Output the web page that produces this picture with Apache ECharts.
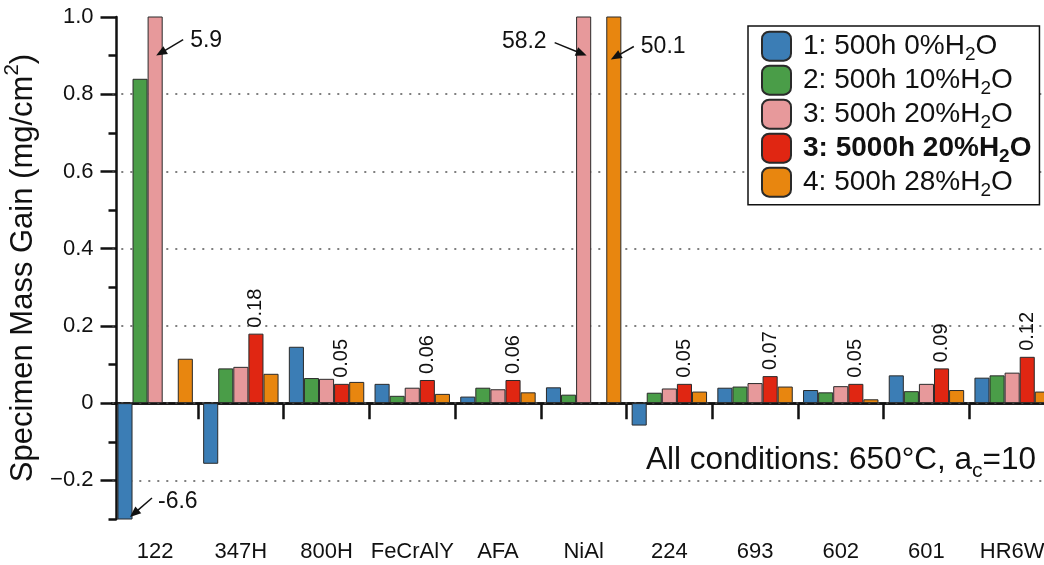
<!DOCTYPE html>
<html><head><meta charset="utf-8">
<script src="https://cdn.jsdelivr.net/npm/echarts@6/dist/echarts.min.js"></script>
<style>html,body{margin:0;padding:0;background:#fff}#c{width:1044px;height:565px}</style>
</head><body><div id="c"></div>
<script>
const categories = ['122','347H','800H','FeCrAlY','AFA','NiAl','224','693','602','601','HR6W'];
const seriesNames = ['1: 500h 0%H2O','2: 500h 10%H2O','3: 500h 20%H2O','3: 5000h 20%H2O','4: 500h 28%H2O'];
const s1 = [-6.6, -0.157, 0.146, 0.05, 0.017, 0.041, -0.058, 0.04, 0.034, 0.072, 0.066];
const s2 = [0.84, 0.09, 0.065, 0.019, 0.04, 0.022, 0.027, 0.043, 0.028, 0.031, 0.072];
const s3 = [5.9, 0.094, 0.063, 0.04, 0.036, 58.2, 0.038, 0.052, 0.044, 0.05, 0.079];
const s4 = [null, 0.18, 0.05, 0.06, 0.06, null, 0.05, 0.07, 0.05, 0.09, 0.12];
const s5 = [0.115, 0.076, 0.055, 0.024, 0.028, 50.1, 0.03, 0.043, 0.01, 0.034, 0.03];
const yMajorTicks = [-0.2, 0, 0.2, 0.4, 0.6, 0.8, 1.0];
const gridLineValues = [-0.2, 0, 0.2, 0.4, 0.6, 0.8];
const colors = ['#3b7db5','#4a9d48','#e7999b','#e02612','#e8860f'];
const clippedNotes = [
  {cat: '122', series: 2, text: '5.9'},
  {cat: '122', series: 0, text: '-6.6'},
  {cat: 'NiAl', series: 2, text: '58.2'},
  {cat: 'NiAl', series: 4, text: '50.1'}
];
const noteText = 'All conditions: 650°C, a';

const FONT = 'Liberation Sans, Arial, Helvetica, sans-serif';
const chart = echarts.init(document.getElementById('c'), null, {renderer: 'canvas'});
const allData = [s1, s2, s3, s4, s5];

function fmtY(v) {
  if (Math.abs(v) < 1e-9) return '0';
  const s = v.toFixed(1);
  return s.replace('-', '\u2212');
}

const series = allData.map((d, i) => {
  const o = {
    name: seriesNames[i],
    type: 'bar',
    data: d,
    xAxisIndex: 0,
    yAxisIndex: 0,
    barGap: '0%',
    barCategoryGap: '12%',
    clip: true,
    itemStyle: {color: colors[i], borderColor: '#2a2a2a', borderWidth: 1},
    emphasis: {disabled: true}
  };
  if (i === 3) {
    o.label = {
      show: true, position: 'top', rotate: 90, align: 'left', verticalAlign: 'middle',
      distance: 6, fontSize: 20, fontFamily: FONT, color: '#111',
      formatter: p => (p.value == null ? '' : Number(p.value).toFixed(2))
    };
  }
  if (i === 0) {
    o.markLine = {
      silent: true, symbol: 'none', z: 1, animation: false,
      label: {show: false},
      lineStyle: {type: [2, 7], color: '#555', width: 1.5},
      data: gridLineValues.map(v => ({yAxis: v}))
    };
  }
  return o;
});

const option = {
  animation: false,
  textStyle: {fontFamily: FONT},
  grid: {left: 112.3, top: 17, width: 942.7, height: 502, containLabel: false, outerBoundsMode: 'none'},
  legend: {
    orient: 'vertical', left: 748, top: 26,
    padding: [4.7, 8, 4, 13],
    itemWidth: 29, itemHeight: 29, itemGap: 0,
    icon: 'roundRect',
    borderColor: '#111', borderWidth: 1.5, borderRadius: 0,
    backgroundColor: '#fff', z: 20,
    data: seriesNames,
    formatter: name => {
      const base = name.replace('H2O', '');
      if (name === seriesNames[3]) return '{b|' + base + 'H}{bs|2}{b|O}';
      return '{n|' + base + 'H}{s|2}{n|O}';
    },
    textStyle: {
      padding: [0, 0, 0, 7],
      lineHeight: 29,
      rich: {
        n: {fontSize: 28, lineHeight: 29, fontFamily: FONT, color: '#111', verticalAlign: 'bottom'},
        s: {fontSize: 19, lineHeight: 29, fontFamily: FONT, color: '#111', verticalAlign: 'bottom', padding: [0, 0, -4, 0]},
        b: {fontSize: 28, lineHeight: 29, fontFamily: FONT, fontWeight: 'bold', color: '#111', verticalAlign: 'bottom'},
        bs: {fontSize: 19, lineHeight: 29, fontFamily: FONT, fontWeight: 'bold', color: '#111', verticalAlign: 'bottom', padding: [0, 0, -4, 0]}
      }
    }
  },
  xAxis: [{
    type: 'category', data: categories, position: 'bottom',
    axisLine: {lineStyle: {color: '#111', width: 2.5}},
    axisTick: {show: true, length: 16, lineStyle: {color: '#111', width: 2.5},
      interval: (idx) => idx !== 0},
    axisLabel: {fontSize: 22, color: '#111', margin: 22, fontFamily: FONT, interval: 0},
    splitLine: {show: false}
  }, {
    type: 'category', data: categories, position: 'top',
    axisLine: {lineStyle: {color: '#111', width: 2.5}},
    axisTick: {show: false}, axisLabel: {show: false}, splitLine: {show: false}
  }],
  yAxis: [{
    type: 'value', min: -0.3, max: 1.0, position: 'left', offset: -4.2,
    axisLine: {show: true, lineStyle: {color: '#111', width: 2.5}},
    axisTick: {show: true, length: 16, lineStyle: {color: '#111', width: 2.5}, customValues: yMajorTicks},
    axisLabel: {fontSize: 22, color: '#111', margin: 23, fontFamily: FONT, customValues: yMajorTicks, formatter: fmtY},
    splitLine: {show: false},
    name: '{a|Specimen Mass Gain (mg/cm}{p|2}{a|)}',
    nameLocation: 'middle', nameGap: 70, nameRotate: 90,
    nameTextStyle: {
      rich: {
        a: {fontSize: 31, fontFamily: FONT, color: '#111', verticalAlign: 'top', padding: [6, 0, 0, 0]},
        p: {fontSize: 20.5, fontFamily: FONT, color: '#111', verticalAlign: 'top'}
      }
    }
  }, {
    type: 'value', min: -0.3, max: 1.0, interval: 0.1, position: 'left', offset: -4.2,
    axisLine: {show: false},
    axisTick: {show: true, length: 8, lineStyle: {color: '#111', width: 2.5}},
    axisLabel: {show: false},
    splitLine: {show: false}
  }],
  series: series
};
chart.setOption(option);

// Annotations for bars that run off the plotted range
function barCenterX(cat, sIdx) {
  const ci = categories.indexOf(cat);
  const cx = chart.convertToPixel({xAxisIndex: 0}, ci);
  const cw = chart.convertToPixel({xAxisIndex: 0}, 1) - chart.convertToPixel({xAxisIndex: 0}, 0);
  const bw = cw * 0.88 / 5;
  return cx + (sIdx - 2) * bw;
}
function yPix(v) { return chart.convertToPixel({yAxisIndex: 0}, v); }

const graphics = [];
function arrow(tx, ty, hx, hy) {
  const dx = hx - tx, dy = hy - ty;
  const L = Math.sqrt(dx * dx + dy * dy);
  const ux = dx / L, uy = dy / L;
  const hl = 11, hw = 4.5;
  const bx = hx - ux * hl, by = hy - uy * hl;
  graphics.push({type: 'line', z: 100, shape: {x1: tx, y1: ty, x2: bx + ux * 2, y2: by + uy * 2},
    style: {stroke: '#111', lineWidth: 1.5}});
  graphics.push({type: 'polygon', z: 100, shape: {points: [[hx, hy], [bx - uy * hw, by + ux * hw], [bx + uy * hw, by - ux * hw]]},
    style: {fill: '#111'}});
}
function label(x, y, text, align) {
  graphics.push({type: 'text', z: 100, x: x, y: y,
    style: {text: text, fontSize: 23, fontFamily: FONT, fill: '#111', align: align, verticalAlign: 'middle'}});
}
clippedNotes.forEach(n => {
  const bx = barCenterX(n.cat, n.series);
  if (n.text === '5.9') {
    const hx = bx + 1, hy = yPix(0.9);
    arrow(hx + 27, hy - 16, hx, hy); label(hx + 34, hy - 15, n.text, 'left');
  } else if (n.text === '-6.6') {
    const hx = bx + 5, hy = yPix(-0.3) - 2;
    arrow(hx + 22, hy - 19, hx, hy); label(hx + 28, hy - 15, n.text, 'left');
  } else if (n.text === '58.2') {
    const hx = bx + 3, hy = yPix(0.9);
    arrow(hx - 32, hy - 13, hx, hy); label(hx - 40, hy - 14, n.text, 'right');
  } else {
    const hx = bx - 3, hy = yPix(0.89);
    arrow(hx + 23, hy - 13, hx, hy); label(hx + 30, hy - 13, n.text, 'left');
  }
});
graphics.push({
  type: 'text', z: 100, x: 646, y: 463,
  style: {
    text: '{a|' + noteText + '}{s|c}{a|=10}',
    align: 'left', verticalAlign: 'middle',
    rich: {
      a: {fontSize: 31.5, fontFamily: FONT, fill: '#111', color: '#111', verticalAlign: 'bottom', padding: [0, 0, 6, 0]},
      s: {fontSize: 21, fontFamily: FONT, fill: '#111', color: '#111', verticalAlign: 'bottom'}
    }
  }
});
chart.setOption({graphic: graphics});
</script>
</body></html>
